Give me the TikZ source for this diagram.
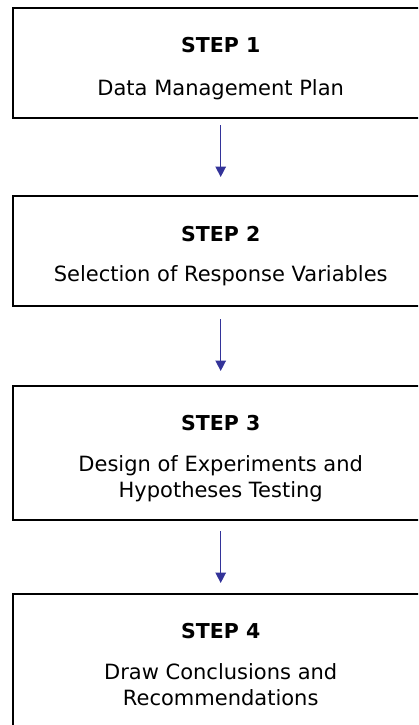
\documentclass[tikz,border=0pt]{standalone}
\usepackage{fontspec}
\setmainfont{DejaVu Sans}
\usetikzlibrary{arrows.meta}
\definecolor{arrowblue}{HTML}{333399}
\begin{document}
\begin{tikzpicture}[x=1pt,y=-1pt,
  stepbox/.style={draw=black,line width=1.9pt,minimum width=414.8pt,inner sep=0pt,outer sep=0pt},
  title/.style={anchor=base,inner sep=0pt,font=\fontsize{20.5}{24}\selectfont\bfseries},
  desc/.style={anchor=base,inner sep=0pt,font=\fontsize{21}{25}\selectfont},
  flow/.style={draw=arrowblue,line width=1.5pt,-{Triangle[width=10.5pt,length=10.5pt]}}]
\useasboundingbox (0,0) rectangle (418,725);
\clip (0,0) rectangle (418,725);
\node[stepbox,minimum height=109.7pt] (b1) at (220.7,62.85) {};
\node[stepbox,minimum height=110.3pt] (b2) at (220.7,250.85) {};
\node[stepbox,minimum height=134pt] (b3) at (220.7,453) {};
\node[stepbox,minimum height=134pt] (b4) at (220.7,661) {};
\node[title] (t1) at (220.7,52.3) {STEP 1};
\node[desc] (d1) at (220.7,95) {Data Management Plan};
\node[title] (t2) at (220.7,241) {STEP 2};
\node[desc] (d2) at (220.7,281.7) {Selection of Response Variables};
\node[title] (t3) at (220.7,430.7) {STEP 3};
\node[desc] (d3a) at (220.7,471.7) {Design of Experiments and};
\node[desc] (d3b) at (220.7,497.3) {Hypotheses Testing};
\node[title] (t4) at (220.7,638.3) {STEP 4};
\node[desc] (d4a) at (220.7,679.3) {Draw Conclusions and};
\node[desc] (d4b) at (220.7,705.7) {Recommendations};
\draw[flow,shorten <=7.3pt,shorten >=18.7pt] (b1.south) -- (b2.north);
\draw[flow,shorten <=13pt,shorten >=15pt] (b2.south) -- (b3.north);
\draw[flow,shorten <=11pt,shorten >=11pt] (b3.south) -- (b4.north);
\end{tikzpicture}
\end{document}
